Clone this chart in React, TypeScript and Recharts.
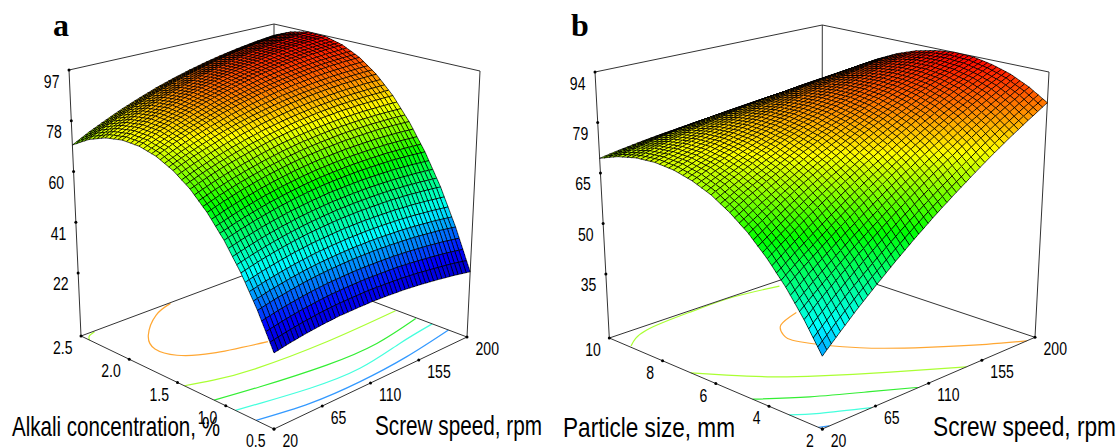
import React from "react";
import { ScatterChart, Scatter, XAxis, YAxis } from "recharts";

// ---------- Chart values ----------
const speedGrid = [20, 35, 50, 65, 80, 95, 110, 125, 140, 155, 170, 185, 200];
const alkaliGrid = [0.5, 0.667, 0.833, 1, 1.167, 1.333, 1.5, 1.667, 1.833, 2, 2.167, 2.333, 2.5];
const particleGrid = [2, 2.667, 3.333, 4, 4.667, 5.333, 6, 6.667, 7.333, 8, 8.667, 9.333, 10];

// one row per alkali concentration, one column per screw speed
const surfaceA = [
  [23.3, 24.4, 25.3, 26.0, 26.5, 26.7, 26.8, 26.6, 26.3, 25.7, 24.9, 24.0, 22.8],
  [34.9, 36.3, 37.4, 38.4, 39.1, 39.6, 39.9, 40.0, 39.9, 39.6, 39.1, 38.4, 37.4],
  [45.1, 46.7, 48.1, 49.3, 50.3, 51.0, 51.6, 51.9, 52.0, 52.0, 51.7, 51.2, 50.5],
  [53.9, 55.7, 57.3, 58.7, 59.9, 60.9, 61.7, 62.2, 62.6, 62.7, 62.7, 62.4, 61.9],
  [61.3, 63.3, 65.1, 66.7, 68.1, 69.3, 70.3, 71.0, 71.6, 71.9, 72.1, 72.0, 71.7],
  [67.3, 69.5, 71.5, 73.2, 74.8, 76.2, 77.4, 78.3, 79.1, 79.6, 79.9, 80.0, 80.0],
  [71.8, 74.2, 76.3, 78.3, 80.1, 81.6, 82.9, 84.1, 85.0, 85.7, 86.2, 86.5, 86.6],
  [74.9, 77.5, 79.8, 81.9, 83.8, 85.5, 87.0, 88.3, 89.3, 90.2, 90.9, 91.3, 91.6],
  [76.6, 79.3, 81.8, 84.0, 86.1, 87.9, 89.5, 91.0, 92.2, 93.2, 94.0, 94.6, 94.9],
  [76.9, 79.7, 82.3, 84.7, 86.9, 88.8, 90.6, 92.1, 93.4, 94.6, 95.5, 96.2, 96.7],
  [75.8, 78.7, 81.4, 83.9, 86.2, 88.2, 90.1, 91.7, 93.2, 94.4, 95.4, 96.3, 96.9],
  [73.3, 76.3, 79.0, 81.6, 84.0, 86.1, 88.1, 89.8, 91.4, 92.7, 93.8, 94.7, 95.4],
  [69.3, 72.4, 75.2, 77.9, 80.3, 82.6, 84.6, 86.4, 88.0, 89.4, 90.6, 91.6, 92.4],
];

// one row per particle size, one column per screw speed
const surfaceB = [
  [35.1, 39.7, 44.3, 48.7, 53.1, 57.4, 61.6, 65.7, 69.7, 73.7, 77.6, 81.3, 85.0],
  [42.8, 47.1, 51.2, 55.3, 59.3, 63.3, 67.1, 70.9, 74.5, 78.1, 81.6, 85.0, 88.4],
  [49.6, 53.5, 57.3, 61.1, 64.7, 68.3, 71.8, 75.2, 78.5, 81.8, 84.9, 88.0, 91.0],
  [55.5, 59.1, 62.6, 66.0, 69.3, 72.5, 75.6, 78.7, 81.7, 84.6, 87.4, 90.1, 92.7],
  [60.6, 63.8, 66.9, 70.0, 73.0, 75.8, 78.7, 81.4, 84.0, 86.6, 89.1, 91.4, 93.8],
  [64.7, 67.6, 70.4, 73.1, 75.8, 78.4, 80.8, 83.2, 85.6, 87.8, 89.9, 92.0, 94.0],
  [68.0, 70.5, 73.0, 75.4, 77.8, 80.0, 82.2, 84.3, 86.3, 88.2, 90.0, 91.8, 93.4],
  [70.3, 72.6, 74.8, 76.9, 78.9, 80.9, 82.7, 84.5, 86.2, 87.8, 89.3, 90.8, 92.1],
  [71.8, 73.8, 75.7, 77.5, 79.2, 80.9, 82.4, 83.9, 85.3, 86.6, 87.8, 89.0, 90.0],
  [72.4, 74.1, 75.7, 77.2, 78.6, 80.0, 81.3, 82.4, 83.6, 84.6, 85.5, 86.4, 87.1],
  [72.1, 73.5, 74.8, 76.1, 77.2, 78.3, 79.3, 80.2, 81.0, 81.8, 82.4, 83.0, 83.5],
  [70.9, 72.0, 73.1, 74.1, 74.9, 75.8, 76.5, 77.1, 77.7, 78.1, 78.5, 78.8, 79.1],
  [68.8, 69.7, 70.5, 71.2, 71.8, 72.4, 72.8, 73.2, 73.5, 73.7, 73.8, 73.9, 73.8],
];

const speedTicks = [20, 65, 110, 155, 200];
const alkaliTicks = [0.5, 1, 1.5, 2, 2.5];
const particleTicks = [2, 4, 6, 8, 10];
const yieldTicksA = [22, 40.75, 59.5, 78.25, 97];
const yieldTicksB = [35, 49.75, 64.5, 79.25, 94];

// floor contours: [screw speed, second factor]
const contoursA: { color: string; line: number[][] }[] = [
  { color: "#ffa733", line: [[102.6, 2.49], [82, 2.41], [55.8, 2.2], [44, 2.0], [48.3, 1.82], [68, 1.67], [107, 1.53]] },
  { color: "#aaff33", line: [[20, 2.41], [24, 2.46], [31.7, 2.49]] },
  { color: "#aaff33", line: [[20, 1.43], [40, 1.35], [73, 1.27], [134, 1.22], [199, 1.23]] },
  { color: "#33ee33", line: [[20, 1.12], [55.6, 1.04], [109, 0.944], [154.6, 0.93], [199, 1.02]] },
  { color: "#44ffdd", line: [[20, 0.9], [38.7, 0.854], [77.4, 0.764], [120.6, 0.727], [165, 0.804], [200, 0.86]] },
  { color: "#3399ff", line: [[20, 0.686], [62, 0.594], [106.8, 0.572], [153, 0.606], [200, 0.692]] },
];
const contoursB: { color: string; line: number[][] }[] = [
  { color: "#ffa733", line: [[133, 7.99], [112, 7.64], [102, 7.1], [101.5, 6.46], [120, 5.03], [147.4, 3.74], [174, 2.67], [193, 2]] },
  { color: "#aaff33", line: [[21.5, 9.25], [46.5, 9.77], [89, 9.93], [123.7, 9.95], [157, 9.69]] },
  { color: "#aaff33", line: [[20, 6.94], [33.7, 6.2], [52, 5.28], [73, 4.46], [104.4, 3.34], [142, 2]] },
  { color: "#33ee33", line: [[20, 4.62], [47, 3.67], [77.4, 2.76], [102, 2]] },
  { color: "#44ffdd", line: [[20, 3.24], [34.6, 2.74], [61.8, 2]] },
  { color: "#3399ff", line: [[20, 2.15], [26, 2]] },
];

// ---------- View settings ----------
type Pt = [number, number];
type View = {
  F: Pt; R: Pt; L: Pt; K: Pt; Ft: Pt; Rt: Pt; Lt: Pt; Kt: Pt;
  sRange: Pt; cRange: Pt; zRange: Pt; colorRange: Pt;
};
const viewA: View = {
  F: [274, 429], R: [467, 337], L: [81, 336], K: [274, 264],
  Ft: [274, 125], Rt: [480, 71], Lt: [69, 70], Kt: [274, 24],
  sRange: [20, 200], cRange: [0.5, 2.5], zRange: [-1.3, 97], colorRange: [22, 97],
};
const viewB: View = {
  F: [822.3, 429], R: [1035, 337.3], L: [609.3, 338], K: [822, 266],
  Ft: [822.3, 128], Rt: [1049, 72], Lt: [595, 72], Kt: [822.3, 25],
  sRange: [20, 200], cRange: [2, 10], zRange: [16.3, 94], colorRange: [18.4, 94],
};

const bil = (a: Pt, b: Pt, c: Pt, d: Pt, v: number, w: number): Pt => [
  a[0] * (1 - v) * (1 - w) + b[0] * v * (1 - w) + c[0] * (1 - v) * w + d[0] * v * w,
  a[1] * (1 - v) * (1 - w) + b[1] * v * (1 - w) + c[1] * (1 - v) * w + d[1] * v * w,
];
const project = (V: View, s: number, c: number, z: number | null) => {
  const v = (s - V.sRange[0]) / (V.sRange[1] - V.sRange[0]);
  const w = (c - V.cRange[0]) / (V.cRange[1] - V.cRange[0]);
  const t = z === null ? 0 : (z - V.zRange[0]) / (V.zRange[1] - V.zRange[0]);
  const lo = bil(V.F, V.R, V.L, V.K, v, w);
  const hi = bil(V.Ft, V.Rt, V.Lt, V.Kt, v, w);
  return { x: lo[0] + (hi[0] - lo[0]) * t, y: lo[1] + (hi[1] - lo[1]) * t };
};

const STOPS: [number, number[]][] = [
  [0, [0, 0, 190]], [0.11, [0, 0, 255]], [0.3, [0, 255, 255]], [0.54, [0, 255, 0]],
  [0.75, [255, 255, 0]], [0.87, [255, 128, 0]], [1, [255, 0, 0]],
];
const heat = (f: number) => {
  const x = Math.max(0, Math.min(1, f));
  for (let i = 1; i < STOPS.length; i++) {
    if (x <= STOPS[i][0]) {
      const [a, ca] = STOPS[i - 1];
      const [b, cb] = STOPS[i];
      const k = (x - a) / (b - a);
      return `rgb(${ca.map((q, j) => Math.round(q + (cb[j] - q) * k)).join(",")})`;
    }
  }
  return "rgb(255,0,0)";
};

const SUB = 4; // mesh lines drawn on each table cell

// Paints the surface from the points the chart's scales have placed
const surfacePainter = (table: number[][], V: View) => (props: any) => {
  const pts: { x: number; y: number }[] = props.points;
  const n = table[0].length;
  const at = (r: number, i: number) => pts[r * n + i];
  const faces: React.ReactElement[] = [];
  const [c0, c1] = V.colorRange;
  for (let r = table.length - 2; r >= 0; r--) {
    for (let sr = SUB - 1; sr >= 0; sr--) {
      for (let i = n - 2; i >= 0; i--) {
        for (let si = SUB - 1; si >= 0; si--) {
          const a = at(r, i), b = at(r, i + 1), c = at(r + 1, i), d = at(r + 1, i + 1);
          const P = (u: number, w: number) => {
            const p = bil([a.x, a.y], [b.x, b.y], [c.x, c.y], [d.x, d.y], u, w);
            return `${p[0].toFixed(1)} ${p[1].toFixed(1)}`;
          };
          const u0 = si / SUB, u1 = (si + 1) / SUB, w0 = sr / SUB, w1 = (sr + 1) / SUB;
          const um = (u0 + u1) / 2, wm = (w0 + w1) / 2;
          const z = table[r][i] * (1 - um) * (1 - wm) + table[r][i + 1] * um * (1 - wm) +
            table[r + 1][i] * (1 - um) * wm + table[r + 1][i + 1] * um * wm;
          faces.push(
            <path
              key={`${r}-${sr}-${i}-${si}`}
              d={`M${P(u0, w0)}L${P(u1, w0)}L${P(u1, w1)}L${P(u0, w1)}Z`}
              fill={heat((z - c0) / (c1 - c0))}
            />
          );
        }
      }
    }
  }
  return <g key="surface" stroke="#000" strokeWidth={0.7} strokeLinejoin="round" shapeRendering="crispEdges">{faces}</g>;
};

const grid = (table: number[][], rows: number[], V: View) =>
  table.flatMap((row, r) => row.map((z, i) => project(V, speedGrid[i], rows[r], z)));

const NoDot = () => <g />;

const tickShape = (dx: number, dy: number, anchor: "start" | "end") => (p: any) => (
  <g>
    <circle cx={p.cx} cy={p.cy} r={1.5} fill="#000" />
    <text
      transform={`translate(${p.cx + dx},${p.cy + dy}) scale(0.74,1)`}
      textAnchor={anchor}
      fontFamily="'Liberation Sans', Arial, sans-serif"
      fontSize={19}
      fill="#000"
    >
      {p.payload.label}
    </text>
  </g>
);

const boxLine = { stroke: "#333", strokeWidth: 1 };

const fmt1 = (n: number) => n.toFixed(1);

function panel(
  id: string,
  V: View,
  table: number[][],
  rows: number[],
  contours: { color: string; line: number[][] }[],
  secondTicks: number[],
  secondLabel: (n: number) => string,
  zTicks: number[]
) {
  const [s0, s1] = V.sRange;
  const [c0, c1] = V.cRange;
  const [z0, z1] = V.zRange;
  const edges: [number, number, number | null, number, number, number | null][] = [
    [s0, c1, null, s0, c1, z1],
    [s0, c1, z1, s1, c1, z1],
    [s1, c1, z1, s1, c0, z1],
    [s1, c0, z1, s1, c0, null],
    [s0, c1, null, s1, c1, null],
    [s1, c0, null, s1, c1, null],
    [s1, c1, null, s1, c1, z1],
    [s0, c1, null, s0, c0, null],
    [s0, c0, null, s1, c0, null],
  ];
  return [
    ...contours.map((ct, k) => (
      <Scatter
        key={`${id}-ct-${k}`}
        data={ct.line.map(([s, c]) => project(V, s, c, null))}
        dataKey="y"
        line={{ stroke: ct.color, strokeWidth: 1.2 }}
        lineJointType="natural"
        shape={NoDot}
        isAnimationActive={false}
      />
    )),
    ...edges.map((e, k) => (
      <Scatter
        key={`${id}-edge-${k}`}
        data={[project(V, e[0], e[1], e[2]), project(V, e[3], e[4], e[5])]}
        dataKey="y"
        line={boxLine}
        shape={NoDot}
        isAnimationActive={false}
      />
    )),
    <Scatter
      key={`${id}-surface`}
      data={grid(table, rows, V)}
      dataKey="y"
      line={surfacePainter(table, V)}
      shape={NoDot}
      isAnimationActive={false}
    />,
    <Scatter
      key={`${id}-zticks`}
      data={zTicks.map((z) => ({ ...project(V, s0, c1, z), label: String(Math.round(z)) }))}
      dataKey="y"
      shape={tickShape(-9.5, 17.5, "end")}
      isAnimationActive={false}
    />,
    <Scatter
      key={`${id}-cticks`}
      data={secondTicks.map((c) => ({ ...project(V, s0, c, null), label: secondLabel(c) }))}
      dataKey="y"
      shape={tickShape(-8.5, 18, "end")}
      isAnimationActive={false}
    />,
    <Scatter
      key={`${id}-sticks`}
      data={speedTicks.map((s) => ({ ...project(V, s, c0, null), label: String(s) }))}
      dataKey="y"
      shape={tickShape(8.5, 18, "start")}
      isAnimationActive={false}
    />,
  ];
}

const titleFont = "'Liberation Sans', Arial, sans-serif";
const titleStyle = { fontFamily: titleFont, fontSize: 28, fill: "#000" };
const letterStyle = { fontFamily: "'Liberation Serif', 'Times New Roman', serif", fontSize: 32, fontWeight: 700, fill: "#000" };

export default function App() {
  return (
    <div style={{ position: "absolute", left: 0, top: 0, width: 1120, height: 447, background: "#fff", overflow: "hidden" }}>
      <ScatterChart width={1120} height={447} margin={{ top: 0, right: 0, bottom: 0, left: 0 }}>
        <XAxis type="number" dataKey="x" domain={[0, 1120]} hide allowDataOverflow />
        <YAxis type="number" dataKey="y" domain={[0, 447]} reversed hide allowDataOverflow />
        {panel("a", viewA, surfaceA, alkaliGrid, contoursA, alkaliTicks, fmt1, yieldTicksA)}
        {panel("b", viewB, surfaceB, particleGrid, contoursB, particleTicks, String, yieldTicksB)}
      </ScatterChart>
      <svg width={1120} height={447} style={{ position: "absolute", left: 0, top: 0, pointerEvents: "none" }}>
        <text x={53} y={36} style={letterStyle}>a</text>
        <text x={571} y={36} style={letterStyle}>b</text>
        <text x={12} y={436} textLength={208} lengthAdjust="spacingAndGlyphs" style={titleStyle}>Alkali concentration, %</text>
        <text x={375} y={435} textLength={167} lengthAdjust="spacingAndGlyphs" style={titleStyle}>Screw speed, rpm</text>
        <text x={563} y={436.5} textLength={172} lengthAdjust="spacingAndGlyphs" style={titleStyle}>Particle size, mm</text>
        <text x={933} y={435.5} textLength={183} lengthAdjust="spacingAndGlyphs" style={titleStyle}>Screw speed, rpm</text>
      </svg>
    </div>
  );
}
